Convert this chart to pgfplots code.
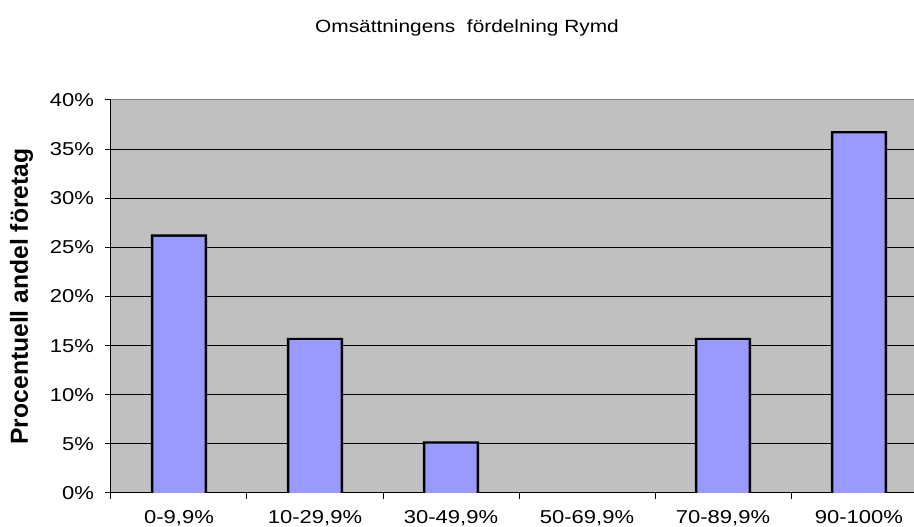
\documentclass[border=0pt]{standalone}
\usepackage{fontspec}
\setmainfont{Liberation Sans}
\usepackage{pgfplots}
\pgfplotsset{compat=1.18}
\definecolor{bggray}{HTML}{C0C0C0}
\definecolor{barblue}{HTML}{9999FF}
\begin{document}
\begin{tikzpicture}
\useasboundingbox (0,0) rectangle (685.5pt,395.25pt);
\node[font=\fontsize{13.25}{16}\selectfont, xscale=1.18] at (350.25pt,374.25pt) {Omsättningens\ \ fördelning Rymd};
\begin{axis}[
  at={(83.25pt,25.5pt)}, anchor=south west,
  scale only axis, width=612pt, height=294.75pt,
  xmin=-0.5, xmax=5.5, ymin=0, ymax=40,
  axis background/.style={fill=bggray},
  axis x line*=bottom, axis y line*=left,
  axis line style={black, line width=0.75pt},
  xtick={0,...,5},
  xticklabels={{0-9,9\%},{10-29,9\%},{30-49,9\%},{50-69,9\%},{70-89,9\%},{90-100\%}},
  major x tick style={draw=none},
  minor xtick={-0.5,0.5,...,5.5},
  minor x tick style={black, line width=0.75pt},
  ytick={0,5,...,40},
  yticklabels={0\%,5\%,10\%,15\%,20\%,25\%,30\%,35\%,40\%},
  ymajorgrids, grid style={black, line width=0.75pt},
  major y tick style={black, line width=0.75pt},
  tick align=outside,
  major tick length=4.5pt, minor tick length=4.5pt,
  tick label style={font=\fontsize{14}{16}\selectfont, xscale=1.18},
  yticklabel style={xshift=-3.5pt},
  xticklabel style={yshift=-5.25pt},
  ylabel={\bfseries Procentuell andel företag},
  ylabel style={font=\fontsize{18.5}{20}\selectfont},
  ylabel shift=5pt,
]
% bar outlines (outer, black)
\addplot[ybar, bar width=0.412, bar shift=0pt, fill=black, draw=none] coordinates {
  (0,26.32) (1,15.79) (2,5.26) (4,15.79) (5,36.84)
};
% bar fills (inner, blue)
\addplot[ybar, bar width=0.378, bar shift=0pt, fill=barblue, draw=none] coordinates {
  (0,26.08) (1,15.55) (2,5.02) (4,15.55) (5,36.60)
};
\draw[gray, line width=0.75pt] (rel axis cs:0,1) -- (rel axis cs:1,1);
\end{axis}
\end{tikzpicture}
\end{document}
